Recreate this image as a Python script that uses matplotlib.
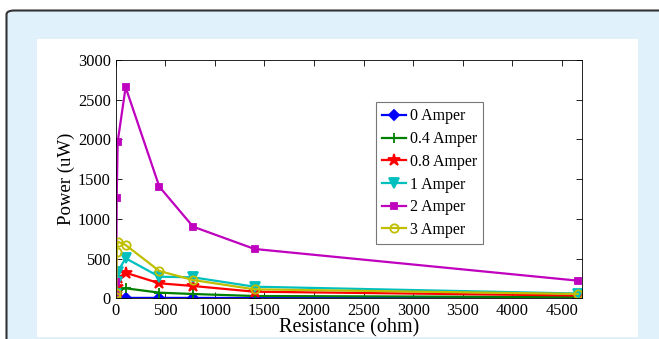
import matplotlib
matplotlib.use("Agg")
import matplotlib.pyplot as plt
from matplotlib.patches import FancyBboxPatch, Rectangle

plt.rcParams['font.family'] = ['Liberation Serif', 'DejaVu Serif']

resistance = [2, 5, 10, 20, 100, 440, 780, 1400, 4660]
labels = ['0 Amper', '0.4 Amper', '0.8 Amper', '1 Amper', '2 Amper', '3 Amper']
p_0 = [1, 2, 3, 4, 5, 5, 5, 4, 3]
p_04 = [10, 30, 60, 100, 126, 71, 54, 29, 15]
p_08 = [15, 50, 146, 250, 322, 189, 155, 83, 35]
p_1 = [20, 60, 209, 335, 504, 272, 264, 146, 60]
p_2 = [60, 200, 1260, 1970, 2657, 1405, 902, 621, 222]
p_3 = [20, 63, 579, 713, 671, 344, 230, 113, 55]
series = [p_0, p_04, p_08, p_1, p_2, p_3]
colors = ['#0000ff', '#008000', '#ff0000', '#00bfbf', '#bf00bf', '#bfbf00']
markers = ['D', '+', '*', 'v', 's', 'o']
msizes = [5, 7, 9, 7, 5, 6]

W, H = 659, 339
fig = plt.figure(figsize=(W / 100, H / 100), dpi=100)
fig.patch.set_facecolor('white')
# outer light-blue rounded panel
fig.patches.append(FancyBboxPatch((6.5 / W, -0.3), (W + 20) / W, 1 - 10.5 / H + 0.3,
                                  boxstyle="round,pad=0,rounding_size=0.012",
                                  transform=fig.transFigure, facecolor='#e1f1fb',
                                  edgecolor='#333333', linewidth=1.5, zorder=-10))
# inner white panel
fig.patches.append(Rectangle((37 / W, 2 / H), (638 - 37) / W, (337 - 38.5) / H,
                             transform=fig.transFigure, facecolor='white',
                             edgecolor='none', zorder=-9))

ax = fig.add_axes([115.7 / W, 1 - 298.3 / H, (581.7 - 115.7) / W, (298.3 - 60) / H])
for y, c, m, ms, lab in zip(series, colors, markers, msizes, labels):
    mfc = 'none' if m == 'o' else c
    ax.plot(resistance, y, color=c, marker=m, markersize=ms, linewidth=1.6,
            markerfacecolor=mfc, markeredgecolor=c, markeredgewidth=1.3, label=lab)

ax.set_xlim(0, 4700)
ax.set_ylim(0, 3000)
ax.set_xticks(range(0, 4501, 500))
ax.set_yticks(range(0, 3001, 500))
ax.tick_params(direction='in', top=True, right=True, labelsize=11.8, length=4, width=0.6)
for s in ax.spines.values():
    s.set_linewidth(0.6)
ax.set_xlabel('Resistance (ohm)', fontsize=14.5, labelpad=-1)
ax.set_ylabel('Power (uW)', fontsize=13.5, labelpad=2)

leg = ax.legend(loc='upper left', bbox_to_anchor=(376 / W, 1 - 102 / H),
                bbox_transform=fig.transFigure, fontsize=11.5, frameon=True,
                fancybox=False, edgecolor='#555555', handlelength=1.5,
                labelspacing=0.42, handletextpad=0.2, borderpad=0.4,
                borderaxespad=0)
leg.get_frame().set_linewidth(0.8)

fig.savefig('out.png', dpi=100)
